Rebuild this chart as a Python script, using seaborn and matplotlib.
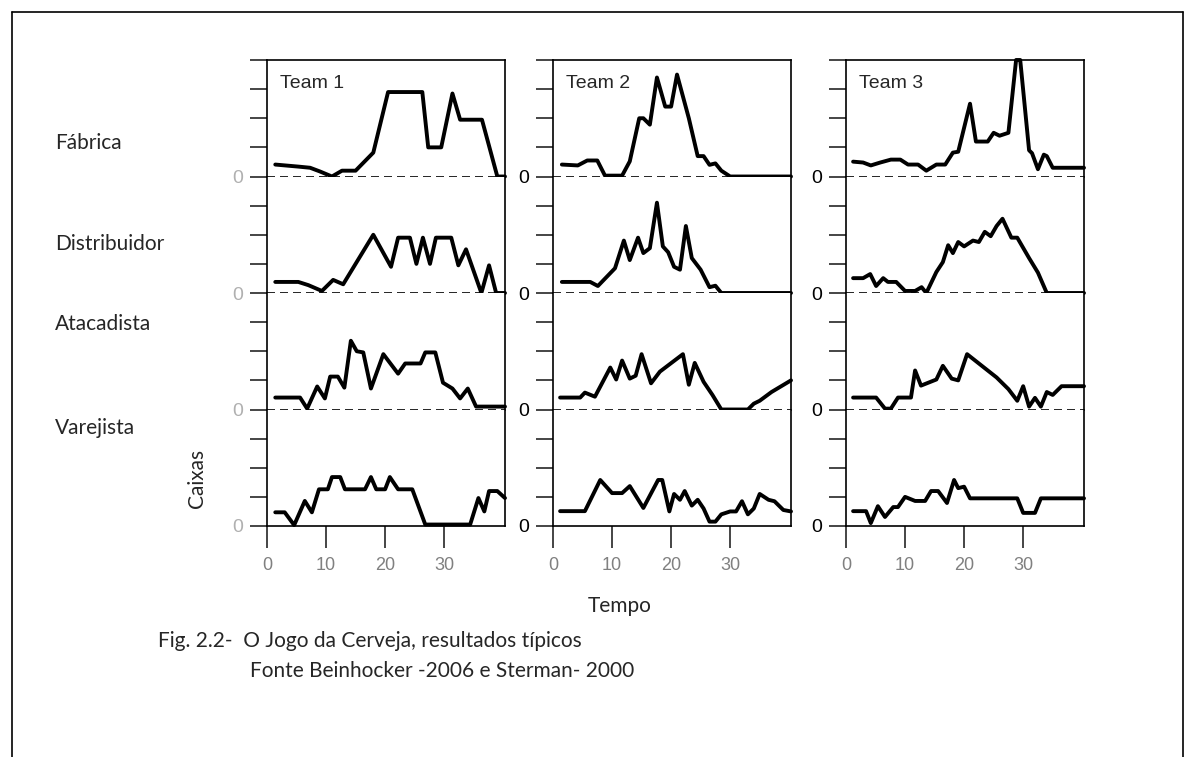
import matplotlib
matplotlib.use('Agg')
import matplotlib.pyplot as plt
from matplotlib.lines import Line2D
import seaborn as sns

# data: x = semana, y = valor em unidades de marca do eixo (0..4 por faixa)
t1_fab_x = [1.4, 5.3, 7.3, 9, 11, 12.7, 15, 18, 20.5, 26.3, 27.3, 29.5, 31.4, 32.7, 36.4, 39, 40.3]
t1_fab_y = [0.41, 0.34, 0.3, 0.17, 0, 0.2, 0.2, 0.82, 2.9, 2.9, 1.0, 1.0, 2.85, 1.95, 1.95, 0, 0]
t1_dis_x = [1.4, 5.3, 7, 9.3, 11.2, 12.9, 18, 21, 22.2, 24.2, 25.3, 26.4, 27.6, 28.6, 31.2, 32.4, 33.7, 36.3, 37.6, 38.8, 40.3]
t1_dis_y = [0.38, 0.38, 0.27, 0.07, 0.45, 0.3, 2.0, 0.9, 1.9, 1.9, 1.0, 1.9, 1.0, 1.9, 1.9, 0.95, 1.5, 0, 0.95, 0, 0]
t1_ata_x = [1.4, 5.6, 6.8, 8.5, 9.8, 10.7, 12, 13.1, 14.2, 15.2, 16.3, 17.6, 19.7, 22.2, 23.4, 26, 26.8, 28.5, 29.8, 31.4, 32.7, 34, 35.4, 40.3]
t1_ata_y = [0.41, 0.41, 0.03, 0.79, 0.38, 1.13, 1.13, 0.75, 2.36, 2.0, 1.96, 0.72, 1.9, 1.23, 1.58, 1.58, 1.96, 1.96, 0.92, 0.72, 0.38, 0.72, 0.1, 0.1]
t1_var_x = [1.4, 3, 4.6, 6.4, 7.6, 8.8, 10.3, 11, 12.4, 13.2, 16.6, 17.6, 18.5, 20, 20.8, 22.2, 24.6, 26.8, 34.4, 35.8, 36.8, 37.6, 39, 40.3]
t1_var_y = [0.47, 0.47, 0.03, 0.86, 0.47, 1.26, 1.26, 1.68, 1.68, 1.26, 1.26, 1.68, 1.26, 1.26, 1.68, 1.26, 1.26, 0.05, 0.05, 0.96, 0.5, 1.2, 1.2, 0.96]

t2_fab_x = [1.5, 4.2, 5.8, 7.5, 8.8, 11.7, 13, 14.6, 15.3, 16.4, 17.6, 19, 20, 21, 23, 24.5, 25.5, 26.5, 27.5, 28.5, 30, 40.3]
t2_fab_y = [0.41, 0.38, 0.55, 0.55, 0.03, 0.03, 0.52, 2.0, 2.0, 1.78, 3.4, 2.4, 2.4, 3.5, 2.0, 0.7, 0.7, 0.4, 0.45, 0.2, 0, 0]
t2_dis_x = [1.5, 6.3, 7.6, 10.5, 12, 13, 14.4, 15.3, 16.4, 17.6, 18.6, 19.5, 20.5, 21.5, 22.5, 23.5, 25, 26.5, 27.5, 28.5, 40.3]
t2_dis_y = [0.38, 0.38, 0.24, 0.85, 1.8, 1.13, 1.9, 1.37, 1.54, 3.1, 1.6, 1.4, 0.9, 0.8, 2.3, 1.2, 0.8, 0.2, 0.25, 0, 0]
t2_ata_x = [1.2, 4.6, 5.4, 7.1, 9.7, 10.7, 11.7, 13, 14, 15, 16.6, 18.1, 22, 23, 24, 25.5, 27, 28.5, 33, 34, 35, 37, 40.3]
t2_ata_y = [0.41, 0.41, 0.58, 0.44, 1.44, 1.03, 1.68, 1.06, 1.16, 1.9, 0.9, 1.3, 1.9, 0.85, 1.6, 0.95, 0.5, 0, 0, 0.2, 0.3, 0.6, 1.0]
t2_var_x = [1.2, 5.4, 8, 10, 11.7, 13, 15.3, 17.8, 18.5, 19.7, 20.5, 21.5, 22.3, 23.5, 24.5, 25.5, 26.5, 27.5, 28.5, 30, 31, 32, 33, 34, 35, 36.5, 37.5, 39, 40.3]
t2_var_y = [0.51, 0.51, 1.58, 1.13, 1.13, 1.37, 0.62, 1.58, 1.58, 0.5, 1.1, 0.9, 1.2, 0.7, 0.9, 0.6, 0.15, 0.15, 0.4, 0.5, 0.5, 0.85, 0.4, 0.6, 1.1, 0.9, 0.85, 0.55, 0.5]

t3_fab_x = [1.2, 2.9, 4.2, 5.8, 7.6, 9.2, 10.5, 12.2, 13.6, 15.3, 16.8, 18.1, 19, 21, 22, 24, 25, 26, 27.5, 28.8, 29.5, 31, 31.5, 32.5, 33.5, 34, 35, 40.3]
t3_fab_y = [0.51, 0.48, 0.38, 0.48, 0.58, 0.58, 0.41, 0.41, 0.2, 0.41, 0.41, 0.82, 0.85, 2.5, 1.2, 1.2, 1.5, 1.4, 1.5, 4.0, 4.0, 0.9, 0.8, 0.25, 0.75, 0.7, 0.3, 0.3]
t3_dis_x = [1.2, 2.9, 4.1, 5.1, 6.3, 7.1, 8.5, 10, 11.7, 12.8, 13.6, 15.3, 16.4, 17.3, 18.1, 19, 20, 21.5, 22.5, 23.5, 24.5, 25.5, 26.5, 28, 29, 31, 32.5, 34, 40.3]
t3_dis_y = [0.51, 0.51, 0.65, 0.24, 0.51, 0.38, 0.38, 0.07, 0.07, 0.2, 0, 0.72, 1.06, 1.64, 1.37, 1.75, 1.6, 1.8, 1.75, 2.1, 1.95, 2.3, 2.55, 1.9, 1.9, 1.2, 0.7, 0, 0]
t3_ata_x = [1.2, 5.1, 6.6, 7.6, 8.8, 11, 11.7, 12.7, 15.3, 16.4, 17.9, 19, 20.5, 23, 25.5, 27.5, 29, 30, 31, 32, 33, 34, 35, 36.5, 40.3]
t3_ata_y = [0.41, 0.41, 0.03, 0.03, 0.41, 0.41, 1.34, 0.82, 1.03, 1.5, 1.06, 1.0, 1.9, 1.5, 1.1, 0.7, 0.3, 0.8, 0.1, 0.4, 0.1, 0.6, 0.5, 0.8, 0.8]
t3_var_x = [1.2, 3.4, 4.2, 5.4, 6.6, 8, 8.8, 10, 11.7, 13.4, 14.4, 15.6, 17.1, 18.3, 19, 20, 21, 29, 30, 32, 33, 40.3]
t3_var_y = [0.51, 0.51, 0.1, 0.68, 0.31, 0.65, 0.65, 1.0, 0.86, 0.86, 1.2, 1.2, 0.79, 1.58, 1.3, 1.35, 0.95, 0.95, 0.45, 0.45, 0.95, 0.95]

teams = ['Team 1', 'Team 2', 'Team 3']
roles = ['Fábrica', 'Distribuidor', 'Atacadista', 'Varejista']
x_ticks = [0, 10, 20, 30]

series = [
    [(t1_fab_x, t1_fab_y), (t1_dis_x, t1_dis_y), (t1_ata_x, t1_ata_y), (t1_var_x, t1_var_y)],
    [(t2_fab_x, t2_fab_y), (t2_dis_x, t2_dis_y), (t2_ata_x, t2_ata_y), (t2_var_x, t2_var_y)],
    [(t3_fab_x, t3_fab_y), (t3_dis_x, t3_dis_y), (t3_ata_x, t3_ata_y), (t3_var_x, t3_var_y)],
]

sns.set_style('white')
plt.rcParams['font.family'] = ['Liberation Sans', 'DejaVu Sans']

W, H = 1195, 757
fig = plt.figure(figsize=(W / 100, H / 100), dpi=100)

team_left = [267, 553, 846]
panel_w = 238
top = 60
row_h = 116.5
zero_color = ['#b0b0b0', 'black', 'black']

for ti, team in enumerate(teams):
    for r in range(4):
        rect = [team_left[ti] / W, (H - top - (r + 1) * row_h) / H, panel_w / W, row_h / H]
        ax = fig.add_axes(rect)
        xs, ys = series[ti][r]
        sns.lineplot(x=xs, y=ys, ax=ax, color='black', linewidth=2.8,
                     estimator=None, sort=False, clip_on=False)
        ax.set_xlim(0, 40.3)
        ax.set_ylim(0, 4)
        ax.set_xlabel('')
        ax.set_ylabel('')
        for s in ax.spines.values():
            s.set_linewidth(1.2)
            s.set_color('black')
        ax.spines['top'].set_visible(r == 0)
        ax.spines['bottom'].set_visible(r == 3)
        if r < 3:
            ax.axhline(0, color='black', linewidth=1.2, linestyle=(0, (4.8, 3)))
        yt = [0, 1, 2, 3, 4] if r == 0 else [0, 1, 2, 3]
        ax.set_yticks(yt)
        ax.set_yticklabels(['0'] + [''] * (len(yt) - 1), fontsize=14, color=zero_color[ti])
        ax.tick_params(axis='y', direction='out', length=12, width=1.2, pad=5, left=True)
        if r == 3:
            ax.set_xticks(x_ticks)
            ax.set_xticklabels([str(v) for v in x_ticks], fontsize=13, color='#808080')
            ax.tick_params(axis='x', direction='out', length=16, width=1.2, pad=6, bottom=True)
        else:
            ax.set_xticks([])
        if r == 0:
            ax.text(0.055, 0.76, team, transform=ax.transAxes, fontsize=14,
                    ha='left', va='baseline')

# textos externos
label_y = [143, 244, 324, 428]
for name, yy in zip(roles, label_y):
    fig.text(55 / W, 1 - yy / H, name, fontsize=15, family='Lato', ha='left', va='center')

fig.text(197 / W, 1 - 478 / H, 'Caixas', fontsize=15, family='Lato', rotation=90,
         ha='center', va='center')
fig.text(620 / W, 1 - 606 / H, 'Tempo', fontsize=15, family='Lato', ha='center', va='center')
fig.text(158 / W, 1 - 641 / H, 'Fig. 2.2-  O Jogo da Cerveja, resultados típicos',
         fontsize=15, family='Lato', ha='left', va='center')
fig.text(250 / W, 1 - 671 / H, 'Fonte Beinhocker -2006 e Sterman- 2000',
         fontsize=15, family='Lato', ha='left', va='center')

# moldura
for (x0, y0, x1, y1) in [(12, 12, 1183, 12), (12, 12, 12, 757), (1183, 12, 1183, 757)]:
    fig.add_artist(Line2D([x0 / W, x1 / W], [1 - y0 / H, 1 - y1 / H],
                          transform=fig.transFigure, color='black', linewidth=1.2))

fig.savefig('out.png', dpi=100)
plt.close(fig)
